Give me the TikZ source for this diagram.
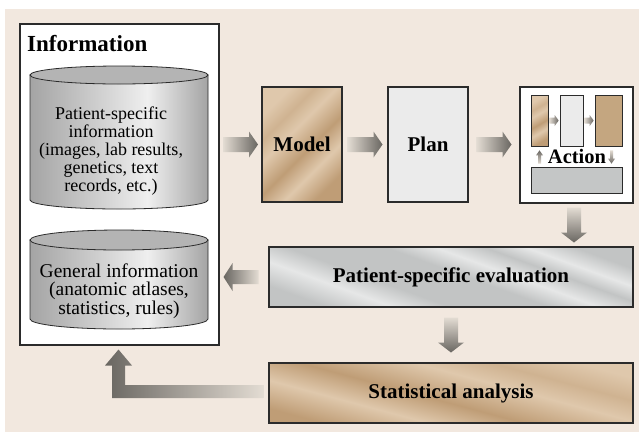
\documentclass[tikz,border=0pt]{standalone}
\usepackage{fontspec}
\setmainfont{Liberation Serif}
\usetikzlibrary{calc}
\definecolor{bgc}{HTML}{F2E8DF}
\definecolor{tanD}{HTML}{BF9D76}
\definecolor{tanL}{HTML}{DFC8AC}
\definecolor{grD}{HTML}{C2C4C4}
\definecolor{grL}{HTML}{E6E7E7}
\definecolor{cylD}{HTML}{A4A4A4}
\definecolor{cylL}{HTML}{EFEFEF}
\definecolor{cylT}{HTML}{B4B4B4}
\definecolor{planc}{HTML}{EBEBEB}
\definecolor{tanS}{HTML}{C4A680}
\definecolor{barc}{HTML}{C4C6C6}
\definecolor{arrD}{HTML}{696661}
\definecolor{arrL}{HTML}{E3DCD3}
\definecolor{edgec}{HTML}{2B2B2B}
\pgfdeclarehorizontalshading{tanshade}{100bp}{color(0bp)=(tanD); color(25bp)=(tanD); color(36bp)=(tanL); color(46bp)=(tanD); color(58bp)=(tanL); color(66bp)=(tanD!50!tanL); color(75bp)=(tanL); color(100bp)=(tanL)}
\pgfdeclarehorizontalshading{grayshade}{100bp}{color(0bp)=(grD); color(25bp)=(grD); color(33bp)=(grL); color(40bp)=(grD); color(52bp)=(grD); color(58bp)=(grL); color(64bp)=(grD); color(69bp)=(grL); color(75bp)=(grD); color(100bp)=(grD)}
\pgfdeclarehorizontalshading{cylshade}{100bp}{color(0bp)=(cylD); color(25bp)=(cylD); color(45bp)=(cylD!40!cylL); color(58bp)=(cylL); color(75bp)=(cylD); color(100bp)=(cylD)}
\begin{document}
\begin{tikzpicture}[x=1pt,y=-1pt,
  box/.style={draw=edgec,line width=1.1pt,inner sep=0pt,text=black},
  boxlabel/.style={font=\fontsize{21}{24}\selectfont\bfseries},
  smallbox/.style={draw=edgec,line width=0.7pt,inner sep=0pt,minimum height=51},
  cylline/.style={draw=edgec,line width=0.8pt},
  cyltext/.style={align=center,inner sep=0pt,font=\fontsize{18}{18}\selectfont},
  cyltextb/.style={align=center,inner sep=0pt,font=\fontsize{19.5}{18.5}\selectfont},
  arrR/.style={left color=arrL,right color=arrD},
  arrLft/.style={left color=arrD,right color=arrL},
  arrDn/.style={top color=arrL,bottom color=arrD},
  arrUp/.style={top color=arrD,bottom color=arrL}]
\useasboundingbox (0,0) rectangle (639,432);
\fill[bgc] (5,9) rectangle (639,432);

% Information box
\node[box,fill=white,minimum width=199,minimum height=321] (info) at (119.5,184.5) {};
\node[anchor=base west,inner sep=0pt,font=\fontsize{23}{26}\selectfont\bfseries] (infotitle) at (27,51) {Information};

% cylinder 1
\shade[shading=cylshade,cylline] (30,75) -- (30,200) arc[start angle=180,end angle=360,x radius=89pt,y radius=9pt] -- (208,75) -- cycle;
\filldraw[fill=cylT,cylline] (119,75) ellipse[x radius=89pt,y radius=9pt];
\node[cyltext] (pinfo) at (111,151) {Patient-specific\\information\\(images, lab results,\\genetics, text\\records, etc.)};

% cylinder 2
\shade[shading=cylshade,cylline] (30,240) -- (30,319) arc[start angle=180,end angle=360,x radius=89pt,y radius=10pt] -- (208,240) -- cycle;
\filldraw[fill=cylT,cylline] (119,240) ellipse[x radius=89pt,y radius=10pt];
\node[cyltextb] (ginfo) at (119,291) {General information\\(anatomic atlases,\\statistics, rules)};

% top row
\node[box,shade,shading=tanshade,shading angle=135,minimum width=80,minimum height=115,boxlabel] (model) at (302,144.5) {Model};
\node[box,fill=planc,minimum width=80,minimum height=115,boxlabel] (plan) at (428,144.5) {Plan};
\node[box,fill=white,minimum width=113,minimum height=116] (action) at (576.5,145) {};
\node[smallbox,shade,shading=tanshade,shading angle=120,minimum width=17] (a1) at (539.5,120.5) {};
\node[smallbox,fill=planc,minimum width=23] (a2) at (571.5,120.5) {};
\node[smallbox,fill=tanS,minimum width=27] (a3) at (608.5,120.5) {};
\node[draw=edgec,line width=0.7pt,inner sep=0pt,fill=barc,minimum width=91,minimum height=26] (abar) at (576.5,180) {};
\node[inner sep=0pt,font=\fontsize{20.5}{21}\selectfont\bfseries] (alabel) at (577,156) {Action};

% small arrows in action
\shade[arrR] let \p1=(a1.east),\p2=(a2.west) in (\x1+1,\y1-3) -- (\x2-5,\y1-3) -- (\x2-5,\y1-5.5) -- (\x2-1,\y1) -- (\x2-5,\y1+5.5) -- (\x2-5,\y1+3) -- (\x1+1,\y1+3) -- cycle;
\shade[arrR] let \p1=(a2.east),\p2=(a3.west) in (\x1+1,\y1-3) -- (\x2-5,\y1-3) -- (\x2-5,\y1-5.5) -- (\x2-1,\y1) -- (\x2-5,\y1+5.5) -- (\x2-5,\y1+3) -- (\x1+1,\y1+3) -- cycle;
\shade[arrUp] let \p1=(a1.south),\p2=(abar.north) in (\x1,\y1-4) -- (\x1+3.5,\y1-9) -- (\x1+1.5,\y1-9) -- (\x1+1.5,\y2+3) -- (\x1-1.5,\y2+3) -- (\x1-1.5,\y1-9) -- (\x1-3.5,\y1-9) -- cycle;
\shade[arrDn] let \p1=(a3.south),\p2=(abar.north),\p4=($(\x1,\y1)+(3,0)$) in (\x4,\y2+3) -- (\x4+3.5,\y2+8) -- (\x4+1.5,\y2+8) -- (\x4+1.5,\y1-4) -- (\x4-1.5,\y1-4) -- (\x4-1.5,\y2+8) -- (\x4-3.5,\y2+8) -- cycle;

% evaluation and statistics
\node[box,shade,shading=grayshade,shading angle=70,minimum width=364,minimum height=60,boxlabel] (eval) at (451,277) {Patient-specific evaluation};
\node[box,shade,shading=tanshade,shading angle=75,minimum width=364,minimum height=60,boxlabel] (stat) at (451,393) {Statistical analysis};

% big arrows to the right
\shade[arrR] let \p1=(info.east),\p2=(model.west),\p3=($(\p1)!0.5!(\p2)$) in (\x3-17.5,\y2-7.5) -- (\x3+8.5,\y2-7.5) -- (\x3+8.5,\y2-13) -- (\x3+17.5,\y2) -- (\x3+8.5,\y2+13) -- (\x3+8.5,\y2+7.5) -- (\x3-17.5,\y2+7.5) -- cycle;
\shade[arrR] let \p1=(model.east),\p2=(plan.west),\p3=($(\p1)!0.5!(\p2)$) in (\x3-17.5,\y2-7.5) -- (\x3+8.5,\y2-7.5) -- (\x3+8.5,\y2-13) -- (\x3+17.5,\y2) -- (\x3+8.5,\y2+13) -- (\x3+8.5,\y2+7.5) -- (\x3-17.5,\y2+7.5) -- cycle;
\shade[arrR] let \p1=(plan.east),\p2=(action.west),\p3=($(\p1)!0.5!(\p2)$) in (\x3-17.5,\y1-7.5) -- (\x3+8.5,\y1-7.5) -- (\x3+8.5,\y1-13) -- (\x3+17.5,\y1) -- (\x3+8.5,\y1+13) -- (\x3+8.5,\y1+7.5) -- (\x3-17.5,\y1+7.5) -- cycle;

% arrow from evaluation back to information
\shade[arrLft] let \p1=(info.east),\p2=(eval.west) in (\x1+4,\y2) -- (\x1+13,\y2+14) -- (\x1+13,\y2+7) -- (\x1+39,\y2+7) -- (\x1+39,\y2-7) -- (\x1+13,\y2-7) -- (\x1+13,\y2-14) -- cycle;

% down arrows
\shade[arrDn] let \p1=(action.south),\p2=(eval.north),\p3=($(\p1)!0.5!(\p2)$),\p4=($(\x1,\y3)+(-2.5,0)$) in (\x4-7,\y4+17.5) -- (\x4-7,\y4-7.5) -- (\x4-13,\y4-7.5) -- (\x4,\y4-17.5) -- (\x4+13,\y4-7.5) -- (\x4+7,\y4-7.5) -- (\x4+7,\y4+17.5) -- cycle;
\shade[arrDn] let \p1=(eval.south),\p2=(stat.north),\p3=($(\p1)!0.5!(\p2)$) in (\x1-7,\y3+17.5) -- (\x1-7,\y3-7.5) -- (\x1-13,\y3-7.5) -- (\x1,\y3-17.5) -- (\x1+13,\y3-7.5) -- (\x1+7,\y3-7.5) -- (\x1+7,\y3+17.5) -- cycle;

% return arrow from statistics to information
\shade[arrLft] let \p1=(info.south),\p2=(stat.west),\p4=($(\x1,\y1)+(-1,0)$) in (\x4,\y1-4) -- (\x4+13.5,\y1-20) -- (\x4+6.5,\y1-20) -- (\x4+6.5,\y2+8) -- (\x2-5,\y2+8) -- (\x2-5,\y2-5) -- (\x4-6.5,\y2-5) -- (\x4-6.5,\y1-20) -- (\x4-13.5,\y1-20) -- cycle;
\end{tikzpicture}
\end{document}
